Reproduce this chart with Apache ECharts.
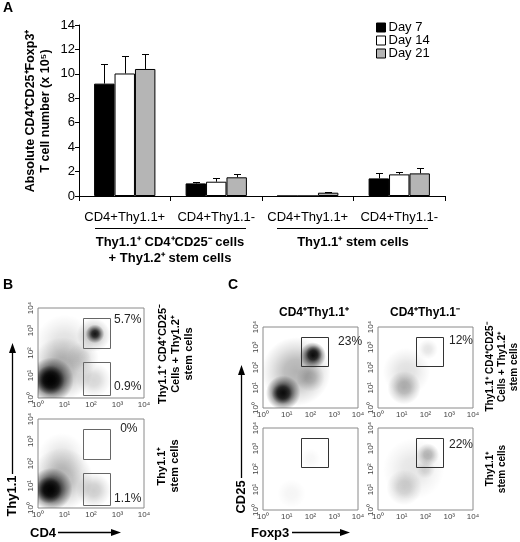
<!DOCTYPE html>
<html><head><meta charset="utf-8">
<script src="https://cdn.jsdelivr.net/npm/echarts@6/dist/echarts.min.js"></script>
<style>html,body{margin:0;padding:0;background:#fff}#c{width:520px;height:542px}</style>
</head><body><div id="c"></div>
<script>
// ---------- Panel A data ----------
const categories = ['CD4+Thy1.1+', 'CD4+Thy1.1-', 'CD4+Thy1.1+', 'CD4+Thy1.1-'];
const seriesNames = ['Day 7', 'Day 14', 'Day 21'];
const day7 = [9.2, 1.03, 0, 1.44];
const day14 = [10.03, 1.17, 0, 1.77];
const day21 = [10.4, 1.53, 0.27, 1.85];
const day7Err = [1.64, 0.14, 0, 0.41];
const day14Err = [1.44, 0.27, 0, 0.22];
const day21Err = [1.2, 0.27, 0.06, 0.41];
const yTicks = [0, 2, 4, 6, 8, 10, 12, 14];
const groupLabels = ['Thy1.1⁺ CD4⁺CD25⁻ cells\n+ Thy1.2⁺ stem cells', 'Thy1.1⁺ stem cells'];

// ---------- Flow panels (log10 exponents) ----------
const flowTicks = [0, 1, 2, 3, 4];
// clusters: [x exponent, y exponent, spread x (decades), spread y (decades), density]
const bTopClusters = [[0.5,0.8,1.7,2.1,0.95],[0.45,0.8,1.1,1.4,0.9],[0.9,1.3,2.6,2.8,0.3],[1.0,2.4,2.4,2.6,0.12],[2.15,2.85,0.7,0.95,0.9],[2.1,2.8,1.3,1.5,0.25],[2.1,0.8,1.3,1.6,0.16],[1.7,1.8,1.4,1.4,0.12]];
const bBotClusters = [[0.5,0.85,1.6,2.0,0.95],[0.4,0.8,1.0,1.3,0.85],[0.9,1.3,2.4,2.8,0.28],[0.9,2.3,1.8,2.2,0.1],[2.1,0.8,1.3,1.6,0.2]];
const cTLClusters = [[0.85,0.75,1.5,1.7,0.9],[0.8,0.7,0.9,1.0,0.55],[2.1,2.6,1.1,1.5,0.9],[2.15,2.7,0.7,0.8,0.55],[1.4,1.8,3.2,3.4,0.3],[2.0,1.5,1.2,1.6,0.2]];
const cTRClusters = [[1.1,1.0,1.4,1.9,0.3],[1.2,1.8,2.0,2.6,0.12],[2.1,2.9,1.0,1.0,0.1]];
const cBLClusters = [[1.2,0.8,1.4,1.4,0.04],[2.0,2.5,1.0,1.0,0.03]];
const cBRClusters = [[1.1,1.1,1.5,2.2,0.18],[1.5,2.0,2.6,3.0,0.1],[2.1,2.7,1.0,1.1,0.28],[2.0,2.0,0.8,1.4,0.12]];
// gates: [x1, x2, y1, y2] exponents
const bGates = [[1.68,2.7,2.2,3.55],[1.68,2.7,0.13,1.58]];
const cGates = [[1.6,2.72,2.1,3.52]];
// percent labels: [text, x exponent, y exponent]
const bTopPct = [['5.7%',2.87,3.5],['0.9%',2.87,0.5]];
const bBotPct = [['0%',3.1,3.55],['1.1%',2.87,0.4]];
const cTLPct = [['23%',3.16,3.26]];
const cTRPct = [['12%',2.99,3.3]];
const cBLPct = [];
const cBRPct = [['22%',2.99,3.17]];

const FONT = 'Liberation Sans, Arial, Helvetica, sans-serif';
const chart = echarts.init(document.getElementById('c'), null, {renderer: 'canvas'});
const sup = {'0':'⁰','1':'¹','2':'²','3':'³','4':'⁴'};

const flowPanels = [
  {grid:{left:38, top:308, width:106, height:90}, clusters:bTopClusters, gates:bGates, pct:bTopPct, gateColor:'#666'},
  {grid:{left:38, top:419, width:106, height:89}, clusters:bBotClusters, gates:bGates, pct:bBotPct, gateColor:'#666'},
  {grid:{left:263, top:327, width:95, height:81}, clusters:cTLClusters, gates:cGates, pct:cTLPct, gateColor:'#333'},
  {grid:{left:378, top:327, width:95, height:81}, clusters:cTRClusters, gates:cGates, pct:cTRPct, gateColor:'#333'},
  {grid:{left:263, top:428, width:95, height:82}, clusters:cBLClusters, gates:cGates, pct:cBLPct, gateColor:'#333'},
  {grid:{left:378, top:428, width:95, height:82}, clusters:cBRClusters, gates:cGates, pct:cBRPct, gateColor:'#333'}
];

const grids = [{left:79, top:25, width:366, height:171}];
const xAxes = [{
  type:'category', gridIndex:0, data:categories,
  axisLine:{lineStyle:{color:'#000', width:1}},
  axisTick:{show:true, length:5, lineStyle:{color:'#000'}},
  axisLabel:{interval:0, fontSize:13, color:'#000', margin:15, fontFamily:FONT}
}];
const yAxes = [{
  type:'value', gridIndex:0, min:yTicks[0], max:yTicks[yTicks.length-1], interval:yTicks[1]-yTicks[0],
  axisLine:{show:true, lineStyle:{color:'#000', width:1}},
  axisTick:{show:true, length:4, lineStyle:{color:'#000'}},
  splitLine:{show:false},
  axisLabel:{fontSize:13, color:'#000', margin:4, fontFamily:FONT}
}];

const pow = e => Math.pow(10, e);
const logFmt = v => '10' + (sup[String(Math.round(Math.log10(v)))] || '');

flowPanels.forEach((p, i) => {
  const gi = i + 1;
  grids.push(Object.assign({show:true, borderColor:'#8a8a8a', borderWidth:1, backgroundColor:'#fff'}, p.grid));
  xAxes.push({type:'log', logBase:10, gridIndex:gi, min:pow(flowTicks[0]), max:pow(flowTicks[flowTicks.length-1]), splitNumber:4,
    axisLine:{show:false}, axisTick:{show:false}, splitLine:{show:false},
    axisLabel:{fontSize:8, color:'#444', margin:3, fontFamily:FONT, formatter:logFmt, showMinLabel:true, showMaxLabel:true}});
  yAxes.push({type:'log', logBase:10, gridIndex:gi, min:pow(flowTicks[0]), max:pow(flowTicks[flowTicks.length-1]), splitNumber:4,
    axisLine:{show:false}, axisTick:{show:false}, splitLine:{show:false},
    axisLabel:{fontSize:8, color:'#444', margin:3, rotate:90, fontFamily:FONT, formatter:logFmt, showMinLabel:true, showMaxLabel:true}});
});

const barColors = ['#000000', '#ffffff', '#b5b5b5'];
const barData = [day7, day14, day21];
const errData = [day7Err, day14Err, day21Err];
const GAP = 0.33;

const series = [];
seriesNames.forEach((n, s) => {
  series.push({
    type:'bar', name:n, xAxisIndex:0, yAxisIndex:0, data:barData[s],
    barGap:'0%', barCategoryGap:(GAP*100)+'%',
    itemStyle:{color:barColors[s], borderColor:'#000', borderWidth:1},
    emphasis:{disabled:true}, z:2
  });
});
const errPts = [];
seriesNames.forEach((n, s) => {
  barData[s].forEach((v, c) => { if (errData[s][c] > 0) errPts.push([c, v, errData[s][c], s]); });
});
series.push({
  type:'custom', xAxisIndex:0, yAxisIndex:0, data:errPts, z:3, silent:true,
  renderItem(params, api) {
    const c = api.value(0), v = api.value(1), e = api.value(2), s = api.value(3);
    const band = api.size([1, 0])[0];
    const bw = band * (1 - GAP) / 3;
    const b = api.coord([c, v]);
    const t = api.coord([c, v + e]);
    const x = Math.round(b[0] + (s - 1) * bw) + 0.5;
    const ty = Math.round(t[1]) + 0.5;
    return {type:'group', children:[
      {type:'line', shape:{x1:x, y1:b[1], x2:x, y2:ty}, style:{stroke:'#000', lineWidth:1}},
      {type:'line', shape:{x1:x-3.5, y1:ty, x2:x+3.5, y2:ty}, style:{stroke:'#000', lineWidth:1}}
    ]};
  }
});

flowPanels.forEach((p, i) => {
  const gi = i + 1;
  series.push({
    type:'custom', xAxisIndex:gi, yAxisIndex:gi, clip:true, silent:true, z:2,
    data:p.clusters.map(c => [pow(c[0]), pow(c[1]), c[2], c[3], c[4]]),
    renderItem(params, api) {
      const pt = api.coord([api.value(0), api.value(1)]);
      const o = api.coord([1, 1]), d = api.coord([10, 10]);
      const w = api.value(2) * (d[0] - o[0]);
      const h = api.value(3) * (o[1] - d[1]);
      const a = api.value(4);
      return {type:'rect', shape:{x:pt[0]-w/2, y:pt[1]-h/2, width:w, height:h},
        style:{fill:{type:'radial', x:0.5, y:0.5, r:0.5, colorStops:[
          {offset:0, color:'rgba(0,0,0,' + a + ')'},
          {offset:0.35, color:'rgba(0,0,0,' + (a*0.85) + ')'},
          {offset:0.7, color:'rgba(0,0,0,' + (a*0.35) + ')'},
          {offset:1, color:'rgba(0,0,0,0)'}]}}};
    }
  });
  series.push({
    type:'custom', xAxisIndex:gi, yAxisIndex:gi, silent:true, z:4,
    data:p.gates.map(g => [pow(g[0]), pow(g[1]), pow(g[2]), pow(g[3])]),
    renderItem(params, api) {
      const a = api.coord([api.value(0), api.value(3)]);
      const b = api.coord([api.value(1), api.value(2)]);
      return {type:'rect', shape:{x:Math.round(a[0])+0.5, y:Math.round(a[1])+0.5, width:Math.round(b[0]-a[0]), height:Math.round(b[1]-a[1])},
        style:{fill:'none', stroke:p.gateColor, lineWidth:1}};
    }
  });
  series.push({
    type:'custom', xAxisIndex:gi, yAxisIndex:gi, silent:true, z:5,
    data:p.pct.map(t => [pow(t[1]), pow(t[2])]),
    renderItem(params, api) {
      const pt = api.coord([api.value(0), api.value(1)]);
      return {type:'text', x:pt[0], y:pt[1], style:{text:p.pct[params.dataIndex][0], fontSize:12, fontFamily:FONT, fill:'#222', align:'left', verticalAlign:'middle'}};
    }
  });
});

function txt(x, y, text, o) {
  o = o || {};
  return {type:'text', x:x, y:y, rotation:o.rot || 0, z:10, silent:true,
    style:{text:text, fontSize:o.size || 13, fontWeight:o.bold ? 'bold' : 'normal', fontFamily:FONT, fill:'#000',
      align:o.align || 'center', verticalAlign:o.va || 'middle', lineHeight:o.lh || undefined}};
}
function line(x1, y1, x2, y2, w) {
  return {type:'line', z:10, silent:true, shape:{x1:x1, y1:y1, x2:x2, y2:y2}, style:{stroke:'#000', lineWidth:w || 1}};
}
function head(pts) {
  return {type:'polygon', z:10, silent:true, shape:{points:pts}, style:{fill:'#000'}};
}
const R = Math.PI / 2;
const graphic = [
  txt(3, 8, 'A', {bold:true, size:14, align:'left'}),
  txt(38, 111, 'Absolute CD4⁺CD25⁺Foxp3⁺\nT cell number (x 10⁵)', {bold:true, size:12.5, rot:R, lh:15}),
  line(95, 228.5, 246, 228.5), line(277, 228.5, 428, 228.5),
  txt(170, 250, groupLabels[0], {bold:true, lh:16}),
  txt(353, 242, groupLabels[1], {bold:true}),
  // B
  txt(3, 285, 'B', {bold:true, size:14, align:'left'}),
  txt(176, 354, 'Thy1.1⁺ CD4⁺CD25⁻\nCells + Thy1.2⁺\nstem cells', {bold:true, size:11, rot:R, lh:13}),
  txt(168.5, 466, 'Thy1.1⁺\nstem cells', {bold:true, size:11, rot:R, lh:13}),
  txt(12, 496, 'Thy1.1', {bold:true, rot:R}),
  line(12.5, 474, 12.5, 350, 1.3), head([[12.5, 343], [9, 353], [16, 353]]),
  txt(30, 533, 'CD4', {bold:true, align:'left'}),
  line(58, 532.5, 114, 532.5, 1.3), head([[121, 532.5], [111, 529], [111, 536]]),
  // C
  txt(228, 285, 'C', {bold:true, size:14, align:'left'}),
  txt(314, 313, 'CD4⁺Thy1.1⁺', {bold:true, size:12}),
  txt(425, 313, 'CD4⁺Thy1.1⁻', {bold:true, size:12}),
  txt(502, 367, 'Thy1.1⁺ CD4⁺CD25⁻\nCells + Thy1.2⁺\nstem cells', {bold:true, size:10, rot:R, lh:12}),
  txt(496.5, 469, 'Thy1.1⁺\nstem cells', {bold:true, size:10, rot:R, lh:12}),
  txt(241, 497, 'CD25', {bold:true, rot:R}),
  line(241.5, 478, 241.5, 372, 1.3), head([[241.5, 365], [238, 375], [245, 375]]),
  txt(251, 533, 'Foxp3', {bold:true, align:'left'}),
  line(292, 532.5, 343, 532.5, 1.3), head([[350, 532.5], [340, 529], [340, 536]])
];

chart.setOption({
  backgroundColor:'#fff',
  animation:false,
  textStyle:{fontFamily:FONT},
  legend:{data:seriesNames, orient:'vertical', left:376, top:21, padding:0, itemGap:0, icon:'rect',
    itemWidth:9, itemHeight:9, itemStyle:{borderColor:'#000', borderWidth:1},
    textStyle:{fontSize:13, color:'#000', fontFamily:FONT, padding:[0,0,0,-2]}, selectedMode:false},
  grid:grids, xAxis:xAxes, yAxis:yAxes, series:series, graphic:graphic
});
</script></body></html>
